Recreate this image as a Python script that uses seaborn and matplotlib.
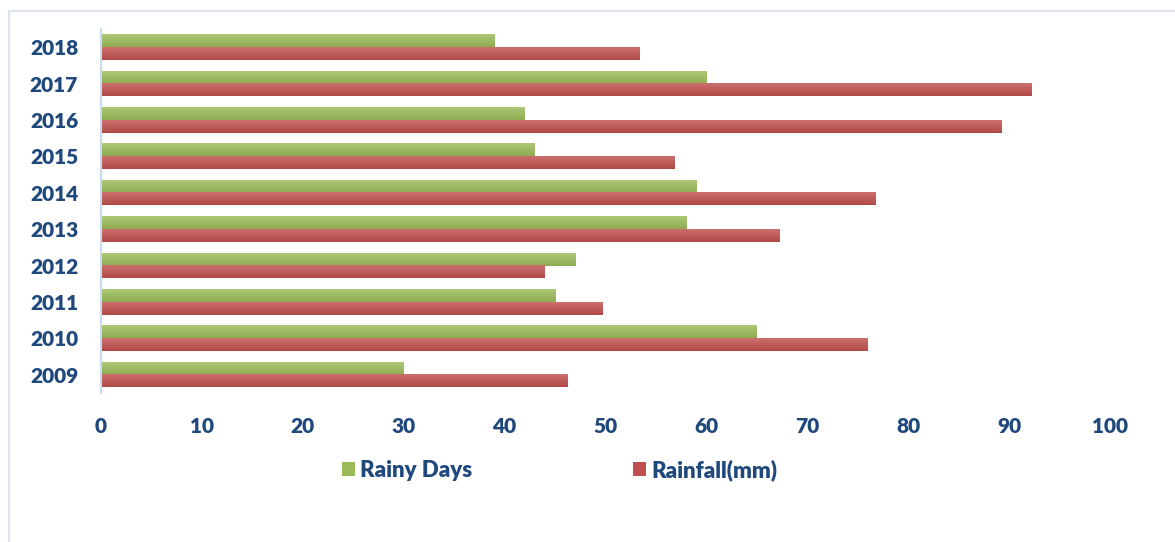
import numpy as np
import pandas as pd
import matplotlib
matplotlib.use("Agg")
import matplotlib.pyplot as plt
from matplotlib.colors import to_rgb
from matplotlib.patches import Patch, Rectangle
import seaborn as sns

# Annual rainfall record
years = ["2018", "2017", "2016", "2015", "2014", "2013", "2012", "2011", "2010", "2009"]
rainy_days = [39, 60, 42, 43, 59, 58, 47, 45, 65, 30]
rainfall_mm = [53.4, 92.2, 89.2, 56.8, 76.8, 67.2, 44.0, 49.7, 76.0, 46.2]
series_names = ["Rainy Days", "Rainfall(mm)"]
x_ticks = [0, 10, 20, 30, 40, 50, 60, 70, 80, 90, 100]

green = "#9BBB59"
red = "#C0504D"
label_color = "#1F497D"

df = pd.DataFrame({
    "year": years * 2,
    "value": rainy_days + rainfall_mm,
    "series": [series_names[0]] * len(years) + [series_names[1]] * len(years),
})

sns.set_theme(style="white")
plt.rcParams["font.family"] = ["Lato", "DejaVu Sans"]

fig = plt.figure(figsize=(11.75, 5.42), dpi=100)
ax = fig.add_axes([0.086, 0.275, 0.8587, 0.6716])

sns.barplot(data=df, x="value", y="year", hue="series", order=years,
            hue_order=series_names, palette=[green, red], orient="h",
            width=0.7, gap=0, saturation=1, legend=False, ax=ax)

# Soft vertical shading on each bar: lighter on top, darker below
for p in list(ax.patches):
    x0, y0, w, h = p.get_x(), p.get_y(), p.get_width(), p.get_height()
    if w <= 0:
        continue
    base = np.array(to_rgb(p.get_facecolor()))
    top = base + (1 - base) * 0.18
    bottom = base * 0.92
    t = np.linspace(0, 1, 32)[:, None]
    grad = (top[None, :] * (1 - t) + bottom[None, :] * t)[:, None, :]
    ax.imshow(grad, extent=[x0, x0 + w, y0 + h, y0], origin="upper",
              aspect="auto", zorder=2, interpolation="bilinear")
    p.set_visible(False)

ax.set_xlim(0, 100)
ax.set_ylim(len(years) - 0.5, -0.5)
ax.set_xticks(x_ticks)
ax.set_xticklabels([str(v) for v in x_ticks])
ax.set_xlabel("")
ax.set_ylabel("")
ax.grid(False)

for side in ["top", "right", "bottom"]:
    ax.spines[side].set_visible(False)
ax.spines["left"].set_color("#C9D9EE")
ax.spines["left"].set_linewidth(1.5)

ax.tick_params(axis="both", length=0, labelsize=15, labelcolor=label_color)
ax.tick_params(axis="x", pad=17)
ax.tick_params(axis="y", pad=16.5)
for lbl in ax.get_xticklabels() + ax.get_yticklabels():
    lbl.set_fontweight("heavy")

handles = [Patch(facecolor=green, edgecolor="none", label=series_names[0]),
           Patch(facecolor=red, edgecolor="none", label=series_names[1])]
leg = fig.legend(handles=handles, loc="center", bbox_to_anchor=(0.4762, 0.133),
                 ncol=2, frameon=False, handlelength=0.6, handleheight=0.6,
                 handletextpad=0.25, columnspacing=7.2,
                 prop={"family": ["Lato", "DejaVu Sans"], "weight": "heavy", "size": 16})
for txt in leg.get_texts():
    txt.set_color(label_color)

# Light outer frame of the chart area
fig.patches.append(Rectangle((9 / 1175, -0.1), 1.2, 1 - 11 / 542 + 0.1,
                             transform=fig.transFigure, fill=False,
                             edgecolor="#DCE3EC", linewidth=1.5, zorder=0))

fig.savefig("out.png", dpi=100, facecolor="white")
